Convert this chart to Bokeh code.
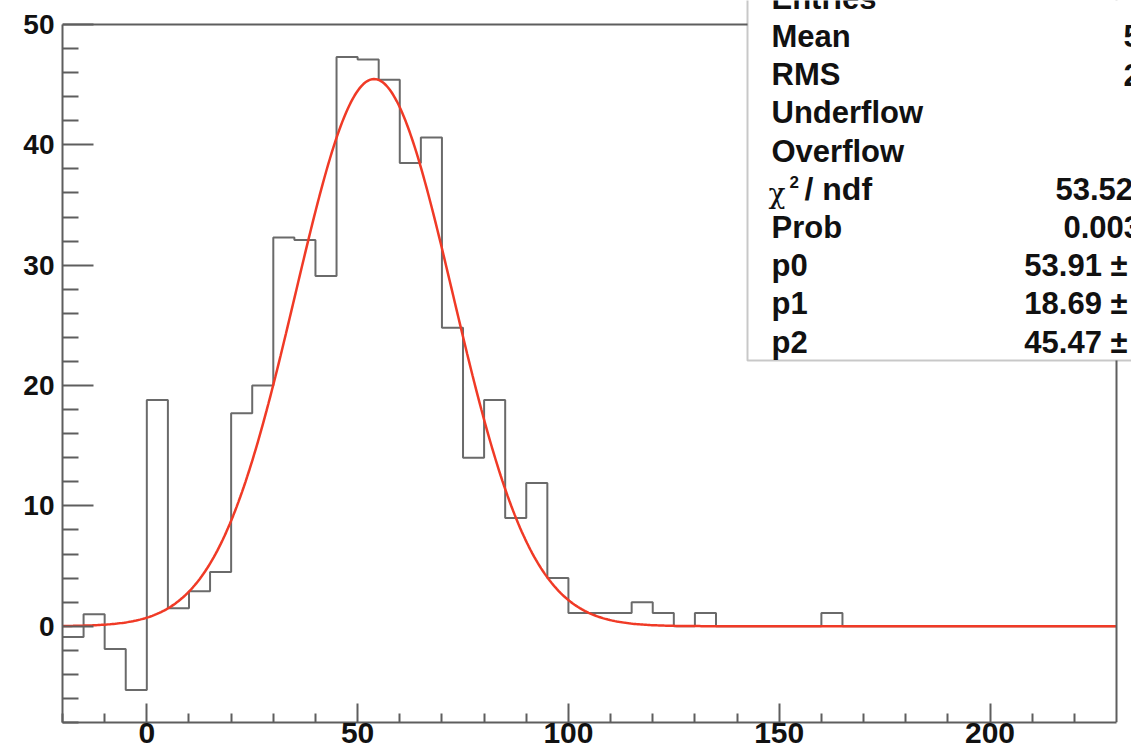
import numpy as np
from bokeh.plotting import figure
from bokeh.models import Range1d, FixedTicker, BoxAnnotation, Label, Span
from bokeh.embed import file_html
from bokeh.resources import INLINE

# ---- data ----
bin_low = list(range(-20, 230, 5))          # 50 bins of width 5
bin_width = 5
counts = [-0.9, 1.0, -1.9, -5.3, 18.8, 1.5, 2.9, 4.5, 17.7, 20.0,
          32.3, 32.1, 29.1, 47.3, 47.1, 45.4, 38.5, 40.6, 24.8, 14.0,
          18.8, 9.0, 11.9, 4.0, 1.1, 1.1, 1.1, 2.0, 1.1, 0.0,
          1.1, 0.0, 0.0, 0.0, 0.0, 0.0, 1.1, 0.0, 0.0, 0.0,
          0.0, 0.0, 0.0, 0.0, 0.0, 0.0, 0.0, 0.0, 0.0, 0.0]

# fit parameters shown in the stats box: p0 = mean, p1 = sigma, p2 = height
p0, p1, p2 = 53.91, 18.69, 45.47

x_ticks = [0, 50, 100, 150, 200]
x_minor = [-20, -10, 10, 20, 30, 40, 60, 70, 80, 90, 110, 120, 130, 140,
           160, 170, 180, 190, 210, 220]
y_ticks = [0, 10, 20, 30, 40, 50]
y_minor = [-8, -6, -4, -2, 2, 4, 6, 8, 12, 14, 16, 18, 22, 24, 26, 28,
           32, 34, 36, 38, 42, 44, 46, 48]

stat_labels = ["Entries", "Mean", "RMS", "Underflow", "Overflow", "", "Prob", "p0", "p1", "p2"]
stat_values = ["", "5", "2", "", "", "53.52", "0.003", "53.91 ±", "18.69 ±", "45.47 ±"]

# ---- layout (pixels) ----
W, H = 1131, 756
L_PX, R_PX, T_PX, B_PX = 62, 1116, 24, 722
XMIN, XMAX, YMIN, YMAX = -20, 230, -8, 50
sx = (R_PX - L_PX) / (XMAX - XMIN)
sy = (B_PX - T_PX) / (YMAX - YMIN)
x_end = XMAX + (W - R_PX) / sx
y_end = YMAX + T_PX / sy
BASE_FIX = 0.355  # em offset between requested and drawn baseline

def xd(px):
    return XMIN + (px - L_PX) / sx

def yd(py, fs=31):
    return YMAX - (py - BASE_FIX * fs - T_PX) / sy

p = figure(width=W, height=H, output_backend="svg", toolbar_location=None,
           x_range=Range1d(XMIN, x_end), y_range=Range1d(YMIN, y_end),
           min_border_left=L_PX, min_border_right=0, min_border_top=0,
           min_border_bottom=H - B_PX)
p.background_fill_color = "white"
p.border_fill_color = "white"
p.outline_line_color = None
p.xgrid.visible = False
p.ygrid.visible = False

AX_COL = "#5e5e5e"
TXT_COL = "#111111"
FONT = "Liberation Sans"

# histogram
edges = bin_low + [bin_low[-1] + bin_width]
p.step(x=edges, y=counts + [counts[-1]], mode="after",
       line_color="#6a6a6a", line_width=2)

# fit curve
xs = np.linspace(XMIN, XMAX, 600)
ys = p2 * np.exp(-0.5 * ((xs - p0) / p1) ** 2)
p.line(xs, ys, line_color="#f03a26", line_width=2.5)

# frame top / right
p.add_layout(Span(location=YMAX, dimension="width", line_color=AX_COL, line_width=2))
p.add_layout(Span(location=XMAX, dimension="height", line_color=AX_COL, line_width=2))

# axes
xa = p.xaxis[0]
xa.ticker = FixedTicker(ticks=x_ticks, minor_ticks=x_minor)
xa.bounds = (XMIN, XMAX)
xa.axis_line_color = AX_COL
xa.axis_line_width = 2
xa.major_tick_line_color = AX_COL
xa.minor_tick_line_color = AX_COL
xa.major_tick_line_width = 2
xa.minor_tick_line_width = 2
xa.major_tick_in = 19
xa.major_tick_out = 0
xa.minor_tick_in = 9
xa.minor_tick_out = 0
xa.major_label_standoff = 0
xa.major_label_text_font = FONT
xa.major_label_text_font_style = "bold"
xa.major_label_text_font_size = "30px"
xa.major_label_text_color = TXT_COL

ya = p.yaxis[0]
ya.ticker = FixedTicker(ticks=y_ticks, minor_ticks=y_minor)
ya.bounds = (YMIN, YMAX)
ya.axis_line_color = AX_COL
ya.axis_line_width = 2
ya.major_tick_line_color = AX_COL
ya.minor_tick_line_color = AX_COL
ya.major_tick_line_width = 2
ya.minor_tick_line_width = 2
ya.major_tick_in = 31
ya.major_tick_out = 0
ya.minor_tick_in = 16
ya.minor_tick_out = 0
ya.major_label_standoff = 8
ya.major_label_text_font = FONT
ya.major_label_text_font_style = "bold"
ya.major_label_text_font_size = "28px"
ya.major_label_text_color = TXT_COL

# stats box
p.add_layout(BoxAnnotation(left=xd(747), right=x_end + 10, bottom=YMAX - (360 - T_PX) / sy,
                           top=y_end + 10, fill_color="white", fill_alpha=1.0,
                           line_color="#4a4a4a", line_width=2, level="annotation"))

row0 = 8.8
step = 38.2
for i, lab in enumerate(stat_labels):
    if not lab:
        continue
    p.add_layout(Label(x=xd(771), y=yd(row0 + i * step), text=lab,
                       text_font=FONT, text_font_style="bold", text_font_size="31px",
                       text_color=TXT_COL, text_baseline="alphabetic", text_align="left"))

# chi2 / ndf row
chi_base = row0 + 5 * step
p.add_layout(Label(x=xd(768), y=yd(chi_base + 3, 28), text="χ", text_font="DejaVu Serif",
                   text_font_size="28px", text_color=TXT_COL, text_baseline="alphabetic"))
p.add_layout(Label(x=xd(789), y=yd(chi_base - 12, 17), text="2", text_font=FONT,
                   text_font_style="bold", text_font_size="17px", text_color=TXT_COL,
                   text_baseline="alphabetic"))
p.add_layout(Label(x=xd(804), y=yd(chi_base), text="/ ndf", text_font=FONT,
                   text_font_style="bold", text_font_size="32px", text_color=TXT_COL,
                   text_baseline="alphabetic"))

# visible parts of the values (the box is cut by the page edge)
val_pos = {1: (1123, "left"), 2: (1123, "left"), 5: (1055, "left"), 6: (1063, "left"),
           7: (1127, "right"), 8: (1127, "right"), 9: (1127, "right")}
for i, txt in enumerate(stat_values):
    if not txt:
        continue
    px, al = val_pos[i]
    p.add_layout(Label(x=xd(px), y=yd(row0 + i * step), text=txt,
                       text_font=FONT, text_font_style="bold", text_font_size="31px",
                       text_color=TXT_COL, text_baseline="alphabetic", text_align=al))

open("out.html", "w").write(file_html(p, INLINE))
